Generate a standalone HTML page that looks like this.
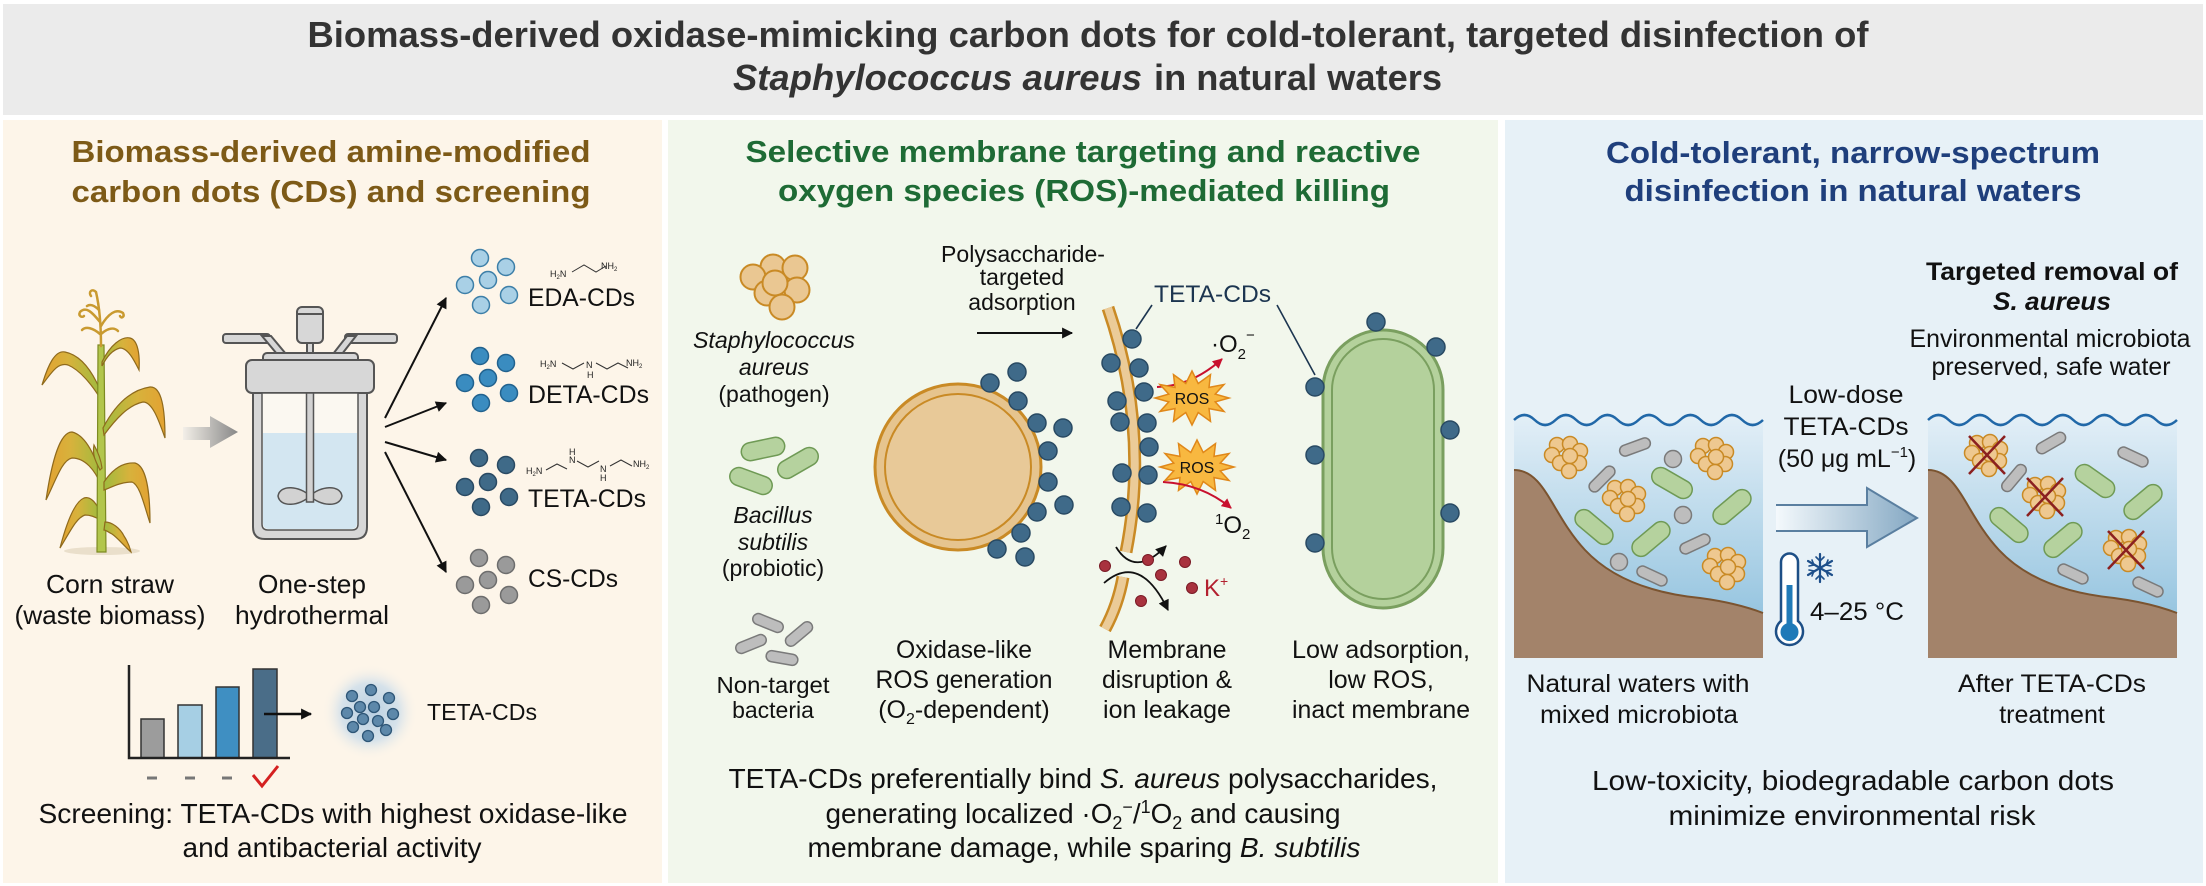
<!DOCTYPE html>
<html><head><meta charset="utf-8"><style>
html,body{margin:0;padding:0;background:#fff;}
svg{display:block;}
text{font-family:"Liberation Sans",Arial,sans-serif;}
</style></head><body>
<svg width="2206" height="886" viewBox="0 0 2206 886" xmlns="http://www.w3.org/2000/svg">
<defs>
  <marker id="ah" viewBox="0 0 10 10" refX="9" refY="5" markerUnits="userSpaceOnUse" markerWidth="13" markerHeight="11" orient="auto"><path d="M0,0 L10,5 L0,10 z" fill="#111"/></marker>
  <marker id="ahr" viewBox="0 0 10 10" refX="9" refY="5" markerUnits="userSpaceOnUse" markerWidth="12" markerHeight="10" orient="auto"><path d="M0,0 L10,5 L0,10 z" fill="#c8102e"/></marker>
  <linearGradient id="garrow" x1="0" y1="0" x2="1" y2="0"><stop offset="0" stop-color="#f3efe8"/><stop offset="1" stop-color="#878787"/></linearGradient>
  <linearGradient id="bigarrow" x1="0" y1="0" x2="1" y2="0"><stop offset="0" stop-color="#f4f9fc"/><stop offset="1" stop-color="#84a8c3"/></linearGradient>
  <linearGradient id="water" x1="0" y1="0" x2="0" y2="1"><stop offset="0" stop-color="#e3eff7"/><stop offset="1" stop-color="#86bcdb"/></linearGradient>
  <linearGradient id="leafR" x1="0" y1="0" x2="1" y2="0"><stop offset="0" stop-color="#9fbb3e"/><stop offset="0.55" stop-color="#d7b23c"/><stop offset="1" stop-color="#e3a232"/></linearGradient>
  <linearGradient id="leafL" x1="1" y1="0" x2="0" y2="0"><stop offset="0" stop-color="#9fbb3e"/><stop offset="0.55" stop-color="#d7b23c"/><stop offset="1" stop-color="#e3a232"/></linearGradient>
  <radialGradient id="glow"><stop offset="0" stop-color="#b9cfe2"/><stop offset="0.6" stop-color="#d6e2ea"/><stop offset="1" stop-color="#fdf5e9" stop-opacity="0"/></radialGradient>
  <polygon id="burst" points="37,0 23.2,3.9 32,13.5 17,10.6 18.5,23.4 6.2,14.5 0,27 -6.2,14.5 -18.5,23.4 -17,10.6 -32,13.5 -23.2,3.9 -37,0 -23.2,-3.9 -32,-13.5 -17,-10.6 -18.5,-23.4 -6.2,-14.5 0,-27 6.2,-14.5 18.5,-23.4 17,-10.6 32,-13.5 23.2,-3.9" fill="#f8b840" stroke="#e0881a" stroke-width="1.5"/>
  <circle id="cd" r="9" fill="#3f6a89" stroke="#294a63" stroke-width="1.5"/>
  <g id="sa" fill="#eec890" stroke="#c98a25" stroke-width="1.5">
    <circle cx="-10" cy="-12" r="7.5"/><circle cx="3" cy="-13" r="7.5"/><circle cx="13" cy="-6" r="7.5"/><circle cx="-15" cy="-2" r="7.5"/><circle cx="12" cy="6" r="7.5"/><circle cx="-7" cy="6" r="7.5"/><circle cx="3" cy="-1" r="7.5"/><circle cx="2" cy="14" r="7.5"/>
  </g>
  <rect id="gr" x="-16" y="-5.5" width="32" height="11" rx="5.5" fill="#bdbdbd" stroke="#7a7a7a" stroke-width="1.5"/>
  <rect id="gn" x="-22" y="-9" width="44" height="18" rx="9" fill="#b5d29e" stroke="#6f9a55" stroke-width="1.5"/>
  <circle id="gc" r="8.5" fill="#bdbdbd" stroke="#7a7a7a" stroke-width="1.5"/>
  <g id="xx" stroke="#8b2020" stroke-width="2.5"><path d="M-18,-19 L18,19 M18,-19 L-18,19"/></g>
</defs>

<!-- backgrounds -->
<rect x="0" y="0" width="2206" height="886" fill="#ffffff"/>
<rect x="3" y="4" width="2200" height="111" fill="#ebebeb"/>
<rect x="3" y="120" width="659" height="763" fill="#fdf5e9"/>
<rect x="668" y="120" width="830" height="763" fill="#f2f7ec"/>
<rect x="1505" y="120" width="698" height="763" fill="#e7f1f7"/>

<!-- main title -->
<text x="1088" y="47" text-anchor="middle" font-size="36" font-weight="bold" fill="#333" textLength="1561" lengthAdjust="spacingAndGlyphs">Biomass-derived oxidase-mimicking carbon dots for cold-tolerant, targeted disinfection of</text>
<text x="733" y="90" font-size="36" font-weight="bold" font-style="italic" fill="#333" textLength="409" lengthAdjust="spacingAndGlyphs">Staphylococcus aureus</text>
<text x="1154" y="90" font-size="36" font-weight="bold" fill="#333" textLength="288" lengthAdjust="spacingAndGlyphs">in natural waters</text>

<!-- panel titles -->
<g font-size="31" font-weight="bold">
<text x="331" y="162" text-anchor="middle" fill="#7d5a17" textLength="519" lengthAdjust="spacingAndGlyphs">Biomass-derived amine-modified</text>
<text x="331" y="202" text-anchor="middle" fill="#7d5a17" textLength="519" lengthAdjust="spacingAndGlyphs">carbon dots (CDs) and screening</text>
<text x="1083" y="162" text-anchor="middle" fill="#1e6b35" textLength="675" lengthAdjust="spacingAndGlyphs">Selective membrane targeting and reactive</text>
<text x="1084" y="201" text-anchor="middle" fill="#1e6b35" textLength="612" lengthAdjust="spacingAndGlyphs">oxygen species (ROS)-mediated killing</text>
<text x="1853" y="163" text-anchor="middle" fill="#1f3f7c" textLength="494" lengthAdjust="spacingAndGlyphs">Cold-tolerant, narrow-spectrum</text>
<text x="1853" y="201" text-anchor="middle" fill="#1f3f7c" textLength="457" lengthAdjust="spacingAndGlyphs">disinfection in natural waters</text>
</g>

<!-- ============ LEFT PANEL ============ -->
<!-- corn plant -->
<ellipse cx="102" cy="551" rx="38" ry="4" fill="#eadfcb"/>
<g stroke="#8f6a1c" stroke-width="1.2">
  <path d="M101,392 C92,370 80,355 65,352 C55,350 48,365 42,385 C52,372 58,362 68,365 C80,370 92,385 100,398 Z" fill="url(#leafL)"/>
  <path d="M102,478 C95,455 85,435 72,432 C60,432 52,460 46,500 C56,480 62,460 72,458 C85,458 95,470 101,485 Z" fill="url(#leafL)"/>
  <path d="M100,512 C96,502 90,496 84,498 C74,502 66,525 60,548 C70,532 76,518 85,515 C92,515 97,518 100,520 Z" fill="url(#leafL)"/>
</g>
<path d="M97,552 L98,345 L104,345 L106,552 Z" fill="#b2c64c" stroke="#7d8a22" stroke-width="1.2"/>
<g stroke="#8f6a1c" stroke-width="1.2">
  <path d="M102,362 C110,345 122,336 130,338 C138,340 140,355 139,370 C134,360 128,348 120,348 C112,350 106,358 102,366 Z" fill="url(#leafR)"/>
  <path d="M103,428 C115,405 130,390 150,387 C162,386 165,410 165,438 C158,418 152,402 143,402 C128,405 115,420 104,435 Z" fill="url(#leafR)"/>
  <path d="M104,482 C112,470 122,462 135,463 C147,466 150,495 150,523 C144,505 140,485 132,482 C120,482 110,488 104,490 Z" fill="url(#leafR)"/>
  <path d="M105,522 C112,522 120,528 124,536 C128,542 130,548 131,552 C124,546 118,538 112,534 C108,532 106,530 104,530 Z" fill="url(#leafR)"/>
  <path d="M100,470 C96,462 92,455 94,445 C98,452 101,460 102,468 Z" fill="#a9bd45"/>
</g>
<g fill="none" stroke="#c99a30" stroke-width="2.5" stroke-linecap="round">
  <path d="M101,346 C101,325 99,305 96,292 C92,288 88,292 91,296"/>
  <path d="M100,322 C92,312 86,306 80,312 C78,316 82,318 84,316"/>
  <path d="M101,326 C108,314 116,308 123,313 C125,317 121,319 120,316"/>
  <path d="M100,334 C93,328 86,326 82,330"/>
  <path d="M101,334 C108,328 114,327 118,331"/>
  <path d="M99,310 C94,305 90,304 87,306"/>
</g>

<!-- gray arrow -->
<path d="M183,427 L210,427 L210,416 L238,432 L210,448 L210,440 L183,440 Z" fill="url(#garrow)"/>

<!-- reactor -->
<g stroke="#555" stroke-width="2" fill="#d7d7d7">
  <rect x="223" y="334" width="47" height="9" rx="3"/>
  <rect x="345" y="334" width="52" height="9" rx="3"/>
  <path d="M262,336 L271,336 L286,354 L277,354 Z"/>
  <path d="M347,336 L356,336 L342,354 L333,354 Z"/>
  <rect x="307" y="342" width="6" height="12"/>
  <rect x="297" y="307" width="26" height="36" rx="5"/>
  <line x1="297" y1="314" x2="323" y2="314"/>
  <rect x="263" y="353" width="95" height="10" rx="4"/>
  <path d="M253,390 L367,390 L367,527 Q367,539 355,539 L265,539 Q253,539 253,527 Z"/>
  <rect x="246" y="360" width="128" height="33" rx="6"/>
  <path d="M262,393 L358,393 L358,524 Q358,530 352,530 L268,530 Q262,530 262,524 Z" fill="#fbf8f1" stroke-width="1.5"/>
</g>
<path d="M263,433 L357,433 L357,523 Q357,529 351,529 L269,529 Q263,529 263,523 Z" fill="#d3e6f1"/>
<g stroke="#555" stroke-width="1.5" fill="#d2d2d2">
  <path d="M310,496 C300,486 280,484 278,496 C280,508 300,506 310,496 Z"/>
  <path d="M310,496 C320,486 340,484 342,496 C340,508 320,506 310,496 Z"/>
  <rect x="306.5" y="393" width="7" height="109"/>
</g>

<!-- arrows to CDs -->
<g stroke="#111" stroke-width="2" marker-end="url(#ah)">
  <line x1="385" y1="418" x2="446" y2="298"/>
  <line x1="385" y1="427" x2="446" y2="403"/>
  <line x1="385" y1="442" x2="446" y2="460"/>
  <line x1="385" y1="452" x2="446" y2="572"/>
</g>

<!-- CD clusters -->
<g stroke-width="1.5">
  <g fill="#a9d0e6" stroke="#3d7fa8" transform="translate(480,258)">
    <circle cx="0" cy="0" r="8.5"/><circle cx="26" cy="9" r="8.5"/><circle cx="-15" cy="27" r="8.5"/><circle cx="8" cy="22" r="8.5"/><circle cx="29" cy="37" r="8.5"/><circle cx="1" cy="47" r="8.5"/>
  </g>
  <g fill="#3a8cc0" stroke="#22628e" transform="translate(480,356)">
    <circle cx="0" cy="0" r="8.5"/><circle cx="26" cy="7" r="8.5"/><circle cx="-15" cy="27" r="8.5"/><circle cx="8" cy="22" r="8.5"/><circle cx="29" cy="37" r="8.5"/><circle cx="1" cy="47" r="8.5"/>
  </g>
  <g fill="#3f6a88" stroke="#2a4a63" transform="translate(479,458)">
    <circle cx="0" cy="0" r="8.5"/><circle cx="27" cy="7" r="8.5"/><circle cx="-14" cy="29" r="8.5"/><circle cx="9" cy="24" r="8.5"/><circle cx="30" cy="39" r="8.5"/><circle cx="2" cy="49" r="8.5"/>
  </g>
  <g fill="#9a9a9a" stroke="#6d6d6d" transform="translate(479,558)">
    <circle cx="0" cy="0" r="8.5"/><circle cx="27" cy="7" r="8.5"/><circle cx="-14" cy="27" r="8.5"/><circle cx="9" cy="22" r="8.5"/><circle cx="30" cy="37" r="8.5"/><circle cx="2" cy="47" r="8.5"/>
  </g>
</g>

<!-- chemical structures -->
<g font-size="9" fill="#222">
  <text x="550" y="277">H<tspan font-size="6" dy="2">2</tspan><tspan dy="-2">N</tspan></text>
  <polyline points="572,272 584,265 596,272 606,266" fill="none" stroke="#333" stroke-width="1"/>
  <text x="601" y="269">NH<tspan font-size="6" dy="2">2</tspan></text>

  <text x="540" y="367">H<tspan font-size="6" dy="2">2</tspan><tspan dy="-2">N</tspan></text>
  <polyline points="562,363 573,369 584,363" fill="none" stroke="#333" stroke-width="1"/>
  <text x="586" y="368">N</text><text x="587" y="378">H</text>
  <polyline points="596,363 607,369 618,363 628,368" fill="none" stroke="#333" stroke-width="1"/>
  <text x="626" y="366">NH<tspan font-size="6" dy="2">2</tspan></text>

  <text x="526" y="474">H<tspan font-size="6" dy="2">2</tspan><tspan dy="-2">N</tspan></text>
  <text x="569" y="455">H</text><text x="569" y="463">N</text>
  <polyline points="546,470 557,464 567,469" fill="none" stroke="#333" stroke-width="1"/>
  <polyline points="577,461 588,467 599,461" fill="none" stroke="#333" stroke-width="1"/>
  <text x="600" y="472">N</text><text x="600" y="481">H</text>
  <polyline points="610,466 621,460 632,466" fill="none" stroke="#333" stroke-width="1"/>
  <text x="633" y="467">NH<tspan font-size="6" dy="2">2</tspan></text>
</g>

<!-- CD labels -->
<g font-size="25" fill="#111">
  <text x="528" y="306" textLength="107" lengthAdjust="spacingAndGlyphs">EDA-CDs</text>
  <text x="528" y="403" textLength="121" lengthAdjust="spacingAndGlyphs">DETA-CDs</text>
  <text x="528" y="507" textLength="118" lengthAdjust="spacingAndGlyphs">TETA-CDs</text>
  <text x="528" y="587" textLength="90" lengthAdjust="spacingAndGlyphs">CS-CDs</text>
</g>
<g font-size="26" fill="#111" text-anchor="middle">
  <text x="110" y="593" textLength="128" lengthAdjust="spacingAndGlyphs">Corn straw</text>
  <text x="110" y="624" textLength="191" lengthAdjust="spacingAndGlyphs">(waste biomass)</text>
  <text x="312" y="593" textLength="108" lengthAdjust="spacingAndGlyphs">One-step</text>
  <text x="312" y="624" textLength="154" lengthAdjust="spacingAndGlyphs">hydrothermal</text>
</g>

<!-- bar chart -->
<g stroke="#333" stroke-width="1.5">
  <rect x="141" y="719" width="23" height="39" fill="#9c9c9c"/>
  <rect x="178" y="705" width="24" height="53" fill="#a6cfe4"/>
  <rect x="216" y="687" width="23" height="71" fill="#3f8fc2"/>
  <rect x="253" y="669" width="24" height="89" fill="#4a6d88"/>
</g>
<path d="M129,665 L129,758 L290,758" fill="none" stroke="#222" stroke-width="2.5"/>
<line x1="264" y1="714" x2="311" y2="714" stroke="#111" stroke-width="2.5" marker-end="url(#ah)"/>
<circle cx="370" cy="712" r="48" fill="url(#glow)"/>
<g fill="#5d88aa" stroke="#2e5677" stroke-width="1.3">
  <circle cx="371" cy="690" r="5.5"/><circle cx="352" cy="696" r="5.5"/><circle cx="389" cy="698" r="5.5"/><circle cx="360" cy="707" r="5.5"/><circle cx="374" cy="707" r="5.5"/><circle cx="347" cy="713" r="5.5"/><circle cx="363" cy="719" r="5.5"/><circle cx="378" cy="721" r="5.5"/><circle cx="393" cy="714" r="5.5"/><circle cx="353" cy="727" r="5.5"/><circle cx="386" cy="730" r="5.5"/><circle cx="368" cy="736" r="5.5"/>
</g>
<text x="427" y="720" font-size="23" fill="#111" textLength="110" lengthAdjust="spacingAndGlyphs">TETA-CDs</text>
<g stroke="#777" stroke-width="3"><line x1="147" y1="778" x2="157" y2="778"/><line x1="185" y1="778" x2="195" y2="778"/><line x1="222" y1="778" x2="232" y2="778"/></g>
<path d="M253,775 L262,786 L278,766" fill="none" stroke="#d42020" stroke-width="3"/>
<g font-size="28" fill="#111" text-anchor="middle">
  <text x="333" y="823" textLength="589" lengthAdjust="spacingAndGlyphs">Screening: TETA-CDs with highest oxidase-like</text>
  <text x="332" y="857" textLength="299" lengthAdjust="spacingAndGlyphs">and antibacterial activity</text>
</g>

<!-- ============ MIDDLE PANEL ============ -->
<g fill="#eac792" stroke="#c98a25" stroke-width="2">
  <circle cx="773" cy="267" r="12.5"/><circle cx="795" cy="268" r="12.5"/><circle cx="753" cy="277" r="12.5"/><circle cx="767" cy="293" r="12.5"/><circle cx="797" cy="290" r="12.5"/><circle cx="775" cy="283" r="12.5"/><circle cx="782" cy="307" r="12.5"/>
</g>
<g font-size="23" fill="#111" text-anchor="middle">
  <text x="774" y="348" font-style="italic" textLength="162" lengthAdjust="spacingAndGlyphs">Staphylococcus</text>
  <text x="774" y="375" font-style="italic">aureus</text>
  <text x="774" y="402">(pathogen)</text>
  <text x="773" y="523" font-style="italic">Bacillus</text>
  <text x="773" y="550" font-style="italic">subtilis</text>
  <text x="773" y="576">(probiotic)</text>
  <text x="773" y="693" textLength="113" lengthAdjust="spacingAndGlyphs">Non-target</text>
  <text x="773" y="718">bacteria</text>
</g>
<use href="#gn" transform="translate(763,449) rotate(-12)"/>
<use href="#gn" transform="translate(798,463) rotate(-30)"/>
<use href="#gn" transform="translate(751,481) rotate(20)"/>
<use href="#gr" transform="translate(768,623) rotate(22)"/>
<use href="#gr" transform="translate(799,634) rotate(-40)"/>
<use href="#gr" transform="translate(751,644) rotate(-22)"/>
<use href="#gr" transform="translate(782,658) rotate(10)"/>

<!-- polysaccharide label + arrow -->
<g font-size="23" fill="#111" text-anchor="middle">
  <text x="1023" y="262" textLength="164" lengthAdjust="spacingAndGlyphs">Polysaccharide-</text>
  <text x="1022" y="285">targeted</text>
  <text x="1022" y="310">adsorption</text>
</g>
<line x1="977" y1="333" x2="1072" y2="333" stroke="#111" stroke-width="2" marker-end="url(#ah)"/>

<!-- big S. aureus cell -->
<circle cx="958" cy="467" r="83" fill="#e6c48e" stroke="#c98a25" stroke-width="3"/>
<circle cx="958" cy="467" r="73" fill="#e8c998" stroke="#c98a25" stroke-width="2"/>
<g>
  <use href="#cd" x="990" y="383"/><use href="#cd" x="1017" y="372"/><use href="#cd" x="1018" y="401"/><use href="#cd" x="1037" y="423"/><use href="#cd" x="1063" y="428"/><use href="#cd" x="1048" y="451"/><use href="#cd" x="1048" y="482"/><use href="#cd" x="1064" y="505"/><use href="#cd" x="1037" y="512"/><use href="#cd" x="1021" y="533"/><use href="#cd" x="997" y="549"/><use href="#cd" x="1025" y="557"/>
</g>

<!-- membrane -->
<path d="M1108,308 Q1150,430 1126,552" fill="none" stroke="#c98a25" stroke-width="13"/>
<path d="M1108,308 Q1150,430 1126,552" fill="none" stroke="#ebcb98" stroke-width="8"/>
<path d="M1123,577 Q1118,605 1105,629" fill="none" stroke="#c98a25" stroke-width="13"/>
<path d="M1123,577 Q1118,605 1105,629" fill="none" stroke="#ebcb98" stroke-width="8"/>
<g>
  <use href="#cd" x="1132" y="339"/><use href="#cd" x="1111" y="363"/><use href="#cd" x="1139" y="368"/><use href="#cd" x="1144" y="392"/><use href="#cd" x="1117" y="401"/><use href="#cd" x="1120" y="422"/><use href="#cd" x="1147" y="423"/><use href="#cd" x="1149" y="447"/><use href="#cd" x="1122" y="473"/><use href="#cd" x="1148" y="475"/><use href="#cd" x="1121" y="507"/><use href="#cd" x="1147" y="513"/>
</g>
<!-- TETA-CDs label and leaders -->
<text x="1154" y="302" font-size="24" fill="#1c3550" textLength="117" lengthAdjust="spacingAndGlyphs">TETA-CDs</text>
<g stroke="#1c3550" stroke-width="1.6"><line x1="1152" y1="305" x2="1136" y2="329"/><line x1="1277" y1="305" x2="1315" y2="375"/></g>

<!-- ROS -->
<path d="M1157,387 Q1192,386 1222,359" fill="none" stroke="#c8102e" stroke-width="2" marker-end="url(#ahr)"/>
<use href="#burst" transform="translate(1192,398)"/>
<text x="1192" y="404" font-size="16" fill="#111" text-anchor="middle">ROS</text>
<use href="#burst" transform="translate(1197,467)"/>
<text x="1197" y="473" font-size="16" fill="#111" text-anchor="middle">ROS</text>
<path d="M1163,482 Q1202,484 1231,508" fill="none" stroke="#c8102e" stroke-width="2" marker-end="url(#ahr)"/>
<text x="1211" y="352" font-size="24" fill="#111">·O<tspan font-size="15" dy="7">2</tspan><tspan font-size="15" dy="-19">−</tspan></text>
<text x="1215" y="533" font-size="24" fill="#111"><tspan font-size="15" dy="-9">1</tspan><tspan dy="9">O</tspan><tspan font-size="15" dy="6">2</tspan></text>

<!-- ion leakage -->
<path d="M1116,547 Q1135,578 1166,546" fill="none" stroke="#111" stroke-width="1.8" marker-end="url(#ah)"/>
<path d="M1104,583 Q1140,552 1168,610" fill="none" stroke="#111" stroke-width="1.8" marker-end="url(#ah)"/>
<g fill="#a8323e" stroke="#7a1a25" stroke-width="1">
  <circle cx="1105" cy="566" r="5.5"/><circle cx="1148" cy="560" r="5.5"/><circle cx="1161" cy="575" r="5.5"/><circle cx="1185" cy="562" r="5.5"/><circle cx="1192" cy="588" r="5.5"/><circle cx="1141" cy="601" r="5.5"/>
</g>
<text x="1204" y="596" font-size="24" fill="#b3202f">K<tspan font-size="14" dy="-10">+</tspan></text>

<!-- B. subtilis rod -->
<rect x="1323" y="330" width="120" height="278" rx="60" fill="#b4d19c" stroke="#7a9f5f" stroke-width="3"/>
<rect x="1332" y="339" width="102" height="260" rx="51" fill="none" stroke="#7a9f5f" stroke-width="2"/>
<g>
  <use href="#cd" x="1376" y="322"/><use href="#cd" x="1436" y="347"/><use href="#cd" x="1315" y="387"/><use href="#cd" x="1450" y="430"/><use href="#cd" x="1315" y="455"/><use href="#cd" x="1450" y="513"/><use href="#cd" x="1315" y="543"/>
</g>

<!-- middle labels -->
<g font-size="25" fill="#111" text-anchor="middle">
  <text x="964" y="658" textLength="136" lengthAdjust="spacingAndGlyphs">Oxidase-like</text>
  <text x="964" y="688" textLength="177" lengthAdjust="spacingAndGlyphs">ROS generation</text>
  <text x="964" y="718">(O<tspan font-size="16" dy="6">2</tspan><tspan dy="-6">-dependent)</tspan></text>
  <text x="1167" y="658" textLength="119" lengthAdjust="spacingAndGlyphs">Membrane</text>
  <text x="1167" y="688" textLength="130" lengthAdjust="spacingAndGlyphs">disruption &amp;</text>
  <text x="1167" y="718">ion leakage</text>
  <text x="1381" y="658" textLength="178" lengthAdjust="spacingAndGlyphs">Low adsorption,</text>
  <text x="1381" y="688">low ROS,</text>
  <text x="1381" y="718" textLength="178" lengthAdjust="spacingAndGlyphs">inact membrane</text>
</g>
<g font-size="28" fill="#111" text-anchor="middle">
  <text x="1083" y="788" textLength="709" lengthAdjust="spacingAndGlyphs">TETA-CDs preferentially bind <tspan font-style="italic">S. aureus</tspan> polysaccharides,</text>
  <text x="1083" y="823" textLength="515" lengthAdjust="spacingAndGlyphs">generating localized ·O<tspan font-size="18" dy="6">2</tspan><tspan font-size="18" dy="-16">−</tspan><tspan dy="10">/</tspan><tspan font-size="18" dy="-10">1</tspan><tspan dy="10">O</tspan><tspan font-size="18" dy="6">2</tspan><tspan dy="-6"> and causing</tspan></text>
  <text x="1084" y="857" textLength="553" lengthAdjust="spacingAndGlyphs">membrane damage, while sparing <tspan font-style="italic">B. subtilis</tspan></text>
</g>

<!-- ============ RIGHT PANEL ============ -->
<g fill="#111" text-anchor="middle">
  <text x="2052" y="280" font-size="25" font-weight="bold" textLength="252" lengthAdjust="spacingAndGlyphs">Targeted removal of</text>
  <text x="2052" y="310" font-size="25" font-weight="bold" font-style="italic" textLength="118" lengthAdjust="spacingAndGlyphs">S. aureus</text>
  <text x="2050" y="347" font-size="25" textLength="281" lengthAdjust="spacingAndGlyphs">Environmental microbiota</text>
  <text x="2051" y="375" font-size="25" textLength="239" lengthAdjust="spacingAndGlyphs">preserved, safe water</text>
  <text x="1846" y="403" font-size="25" textLength="115" lengthAdjust="spacingAndGlyphs">Low-dose</text>
  <text x="1846" y="435" font-size="25" textLength="125" lengthAdjust="spacingAndGlyphs">TETA-CDs</text>
  <text x="1847" y="467" font-size="25">(50 μg mL<tspan font-size="15" dy="-10">−1</tspan><tspan dy="10">)</tspan></text>
</g>

<!-- left water box -->
<path d="M1514,420 q10.4,-10 20.75,0 q10.4,10 20.75,0 q10.4,-10 20.75,0 q10.4,10 20.75,0 q10.4,-10 20.75,0 q10.4,10 20.75,0 q10.4,-10 20.75,0 q10.4,10 20.75,0 q10.4,-10 20.75,0 q10.4,10 20.75,0 q10.4,-10 20.75,0 q10.4,10 20.75,0 L1763,658 L1514,658 Z" fill="url(#water)"/>
<path d="M1514,470 C1545,470 1552,515 1585,550 C1615,582 1660,594 1700,598 C1730,602 1750,608 1763,613 L1763,658 L1514,658 Z" fill="#a3836a"/>
<path d="M1514,470 C1545,470 1552,515 1585,550 C1615,582 1660,594 1700,598 C1730,602 1750,608 1763,613" fill="none" stroke="#7b5430" stroke-width="2"/>
<path d="M1514,420 q10.4,-10 20.75,0 q10.4,10 20.75,0 q10.4,-10 20.75,0 q10.4,10 20.75,0 q10.4,-10 20.75,0 q10.4,10 20.75,0 q10.4,-10 20.75,0 q10.4,10 20.75,0 q10.4,-10 20.75,0 q10.4,10 20.75,0 q10.4,-10 20.75,0 q10.4,10 20.75,0" fill="none" stroke="#2168a8" stroke-width="2.5"/>
<use href="#gr" transform="translate(1635,447) rotate(-20)"/>
<use href="#gr" transform="translate(1602,479) rotate(-45)"/>
<use href="#gr" transform="translate(1695,544) rotate(-25)"/>
<use href="#gr" transform="translate(1652,576) rotate(25)"/>
<use href="#gc" x="1673" y="459"/><use href="#gc" x="1683" y="515"/><use href="#gc" x="1619" y="562"/>
<use href="#gn" transform="translate(1672,483) rotate(30)"/>
<use href="#gn" transform="translate(1732,507) rotate(-40)"/>
<use href="#gn" transform="translate(1594,527) rotate(40)"/>
<use href="#gn" transform="translate(1651,539) rotate(-40)"/>
<use href="#sa" x="1567" y="457"/><use href="#sa" x="1713" y="458"/><use href="#sa" x="1625" y="500"/><use href="#sa" x="1725" y="568"/>

<!-- right water box -->
<path d="M1928,420 q10.4,-10 20.75,0 q10.4,10 20.75,0 q10.4,-10 20.75,0 q10.4,10 20.75,0 q10.4,-10 20.75,0 q10.4,10 20.75,0 q10.4,-10 20.75,0 q10.4,10 20.75,0 q10.4,-10 20.75,0 q10.4,10 20.75,0 q10.4,-10 20.75,0 q10.4,10 20.75,0 L2177,658 L1928,658 Z" fill="url(#water)"/>
<path d="M1928,470 C1959,470 1966,515 1999,550 C2029,582 2074,594 2114,598 C2144,602 2164,608 2177,613 L2177,658 L1928,658 Z" fill="#a3836a"/>
<path d="M1928,470 C1959,470 1966,515 1999,550 C2029,582 2074,594 2114,598 C2144,602 2164,608 2177,613" fill="none" stroke="#7b5430" stroke-width="2"/>
<path d="M1928,420 q10.4,-10 20.75,0 q10.4,10 20.75,0 q10.4,-10 20.75,0 q10.4,10 20.75,0 q10.4,-10 20.75,0 q10.4,10 20.75,0 q10.4,-10 20.75,0 q10.4,10 20.75,0 q10.4,-10 20.75,0 q10.4,10 20.75,0 q10.4,-10 20.75,0 q10.4,10 20.75,0" fill="none" stroke="#2168a8" stroke-width="2.5"/>
<use href="#gr" transform="translate(2051,443) rotate(-30)"/>
<use href="#gr" transform="translate(2133,457) rotate(25)"/>
<use href="#gr" transform="translate(2014,478) rotate(-50)"/>
<use href="#gr" transform="translate(2073,574) rotate(25)"/>
<use href="#gr" transform="translate(2148,587) rotate(25)"/>
<use href="#gn" transform="translate(2095,481) rotate(35)"/>
<use href="#gn" transform="translate(2143,502) rotate(-40)"/>
<use href="#gn" transform="translate(2009,525) rotate(40)"/>
<use href="#gn" transform="translate(2063,540) rotate(-40)"/>
<use href="#sa" x="1987" y="455"/><use href="#xx" x="1987" y="455"/>
<use href="#sa" x="2045" y="497"/><use href="#xx" x="2045" y="497"/>
<use href="#sa" x="2126" y="550"/><use href="#xx" x="2126" y="550"/>

<!-- big arrow -->
<path d="M1776,505 L1867,505 L1867,488 L1917,518 L1867,547 L1867,531 L1776,531 Z" fill="url(#bigarrow)"/>
<path d="M1776,505 L1867,505 L1867,488 L1917,518 L1867,547 L1867,531 L1776,531" fill="none" stroke="#5a7fa0" stroke-width="2"/>

<!-- thermometer -->
<path d="M1781,562 A8.5,8.5 0 0 1 1798,562 L1798,621 A13.5,13.5 0 1 1 1781,621 Z" fill="#ffffff" stroke="#1d4f86" stroke-width="2.5"/>
<rect x="1786.5" y="585" width="6" height="40" fill="#1f7ab8"/>
<circle cx="1789.5" cy="632" r="9" fill="#1f7ab8"/>
<!-- snowflake -->
<g stroke="#1d4f8a" stroke-width="2.2" stroke-linecap="round" transform="translate(1820,568)">
  <line x1="0" y1="-14" x2="0" y2="14"/><line x1="-12" y1="-7" x2="12" y2="7"/><line x1="-12" y1="7" x2="12" y2="-7"/>
  <path d="M-4,-11 L0,-7 L4,-11 M-4,11 L0,7 L4,11 M-11,-2 L-6,-3 L-8,-8 M11,2 L6,3 L8,8 M-11,2 L-6,3 L-8,8 M11,-2 L6,-3 L8,-8" fill="none" stroke-width="1.6"/>
</g>
<text x="1810" y="620" font-size="25" fill="#111" textLength="94" lengthAdjust="spacingAndGlyphs">4–25 °C</text>

<g font-size="25" fill="#111" text-anchor="middle">
  <text x="1638" y="692" textLength="223" lengthAdjust="spacingAndGlyphs">Natural waters with</text>
  <text x="1639" y="723" textLength="198" lengthAdjust="spacingAndGlyphs">mixed microbiota</text>
  <text x="2052" y="692" textLength="188" lengthAdjust="spacingAndGlyphs">After TETA-CDs</text>
  <text x="2052" y="723">treatment</text>
</g>
<g font-size="28" fill="#111" text-anchor="middle">
  <text x="1853" y="790" textLength="522" lengthAdjust="spacingAndGlyphs">Low-toxicity, biodegradable carbon dots</text>
  <text x="1852" y="825" textLength="367" lengthAdjust="spacingAndGlyphs">minimize environmental risk</text>
</g>
</svg>
</body></html>
